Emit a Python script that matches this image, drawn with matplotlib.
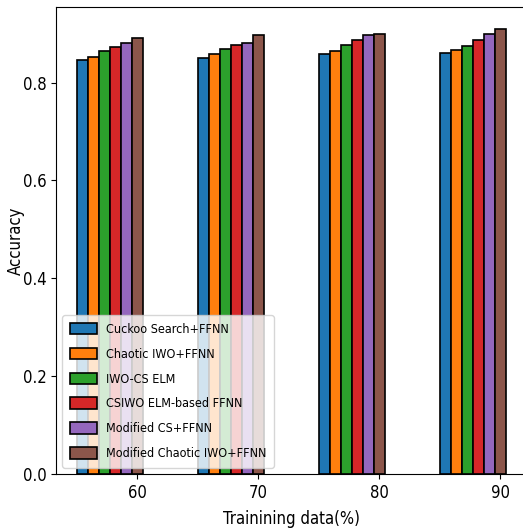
import matplotlib
matplotlib.use("Agg")
import matplotlib.pyplot as plt
import numpy as np

plt.rcParams['font.family'] = ['DejaVu Sans']
plt.rcParams['font.stretch'] = 'condensed'

training = [60, 70, 80, 90]
labels = ["Cuckoo Search+FFNN", "Chaotic IWO+FFNN", "IWO-CS ELM",
          "CSIWO ELM-based FFNN", "Modified CS+FFNN", "Modified Chaotic IWO+FFNN"]
cuckoo = [0.846, 0.851, 0.859, 0.861]
chaotic_iwo = [0.853, 0.859, 0.865, 0.866]
iwo_cs_elm = [0.865, 0.869, 0.876, 0.875]
csiwo_elm = [0.872, 0.877, 0.887, 0.887]
modified_cs = [0.880, 0.881, 0.897, 0.899]
modified_chaotic = [0.892, 0.897, 0.900, 0.909]
series = [cuckoo, chaotic_iwo, iwo_cs_elm, csiwo_elm, modified_cs, modified_chaotic]
colors = ['#1f77b4', '#ff7f0e', '#2ca02c', '#d62728', '#9467bd', '#8c564b']

fig = plt.figure(figsize=(5.23, 5.31), dpi=100)
ax = fig.add_axes([56/523, 57/531, (527-56)/523, (474-7)/531])

w = 0.9
x = np.array(training, dtype=float)
n = len(series)
for i, (vals, lab, c) in enumerate(zip(series, labels, colors)):
    ax.bar(x - (n - 1 - i) * w, vals, width=w, color=c, edgecolor='black',
           linewidth=1.2, label=lab)

ax.set_xticks(training)
ax.set_yticks([0.0, 0.2, 0.4, 0.6, 0.8])
ax.tick_params(labelsize=12)
ax.set_xlabel("Trainining data(%)", fontsize=12, labelpad=6)
ax.set_ylabel("Accuracy", fontsize=12, labelpad=-1.5)
ax.legend(loc='lower left', framealpha=0.8, fontsize=9, labelspacing=0.95,
          borderpad=0.6, handleheight=1.04, handlelength=2.2, handletextpad=0.7)

fig.savefig("out.png", dpi=100)
